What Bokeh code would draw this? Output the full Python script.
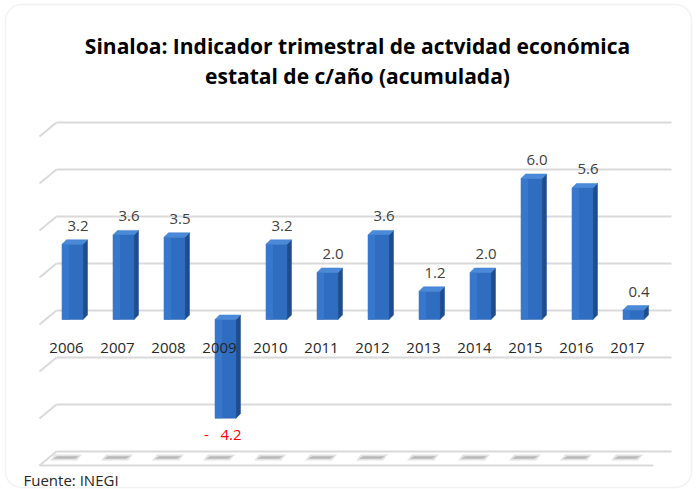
from bokeh.plotting import figure
from bokeh.models import Range1d, Label, BoxAnnotation
from bokeh.core.properties import value
from bokeh.embed import file_html
from bokeh.resources import INLINE

# ---- data ----
years = ["2006", "2007", "2008", "2009", "2010", "2011",
         "2012", "2013", "2014", "2015", "2016", "2017"]
values = [3.2, 3.6, 3.5, -4.2, 3.2, 2.0, 3.6, 1.2, 2.0, 6.0, 5.6, 0.4]
grid_ticks = [-6, -4, -2, 0, 2, 4, 6, 8]
title_lines = ["Sinaloa: Indicador trimestral de actvidad económica",
               "estatal de c/año (acumulada)"]
source_note = "Fuente: INEGI"

# ---- layout constants (pixels) ----
W, H = 696, 489
PX_X = 51.0      # px per category
PX_Y = 23.5      # px per value unit
X0 = 72.0        # px position of first category centre
Y0 = 170.0       # px (from bottom) of value 0 at bar front


def dx(px):
    return px / PX_X


def dy(px):
    return px / PX_Y


def sx(px):      # screen x (from left) -> data
    return (px - X0) / PX_X


def sy(px):      # screen y (from top) -> data
    return ((H - px) - Y0) / PX_Y


FONT = "Open Sans"

p = figure(width=W, height=H,
           x_range=Range1d(-X0 / PX_X, (W - X0) / PX_X),
           y_range=Range1d(-Y0 / PX_Y, (H - Y0) / PX_Y),
           x_axis_location=None, y_axis_location=None,
           output_backend="svg", toolbar_location=None,
           min_border=0, title=None)
p.grid.visible = False
p.outline_line_color = None
p.background_fill_color = "white"
p.border_fill_color = "white"

# rounded chart border
p.add_layout(BoxAnnotation(left=sx(5), right=sx(691), top=sy(4), bottom=sy(487),
                           fill_color=None, line_color="#d4d4d4", line_width=1.5,
                           border_radius=16))

# ---- 3D walls ----
back_off = dy(9)
diag_dx = dx(-17)
diag_dy = dy(-14)
back_left = dx(-16)
right_end = dx(599)
front_right = dx(581)

x0s, y0s, x1s, y1s = [], [], [], []
for g in grid_ticks:
    yb = g + back_off
    x0s += [back_left, back_left + diag_dx]
    y0s += [yb, yb + diag_dy]
    x1s += [right_end, back_left]
    y1s += [yb, yb]
# floor front edge
floor_y = grid_ticks[0] + back_off + diag_dy
x0s.append(back_left + diag_dx); y0s.append(floor_y)
x1s.append(front_right); y1s.append(floor_y)
p.segment(x0=x0s, y0=y0s, x1=x1s, y1=y1s, line_color="#d9d9d9", line_width=2)

# floor shadows
shadow_y = grid_ticks[0] + back_off + dy(-6)
shx, shy, shx2, shy2 = [], [], [], []
for i in range(len(years)):
    c = i + dx(-6.5)
    shx.append([c - dx(16), c + dx(11), c + dx(16), c - dx(11)])
    shy.append([shadow_y - dy(3), shadow_y - dy(3), shadow_y + dy(3), shadow_y + dy(3)])
    shx2.append([c - dx(13), c + dx(9), c + dx(13), c - dx(9)])
    shy2.append([shadow_y - dy(1.3), shadow_y - dy(1.3), shadow_y + dy(1.3), shadow_y + dy(1.3)])
p.patches(xs=shx, ys=shy, fill_color="#e3e3e3", line_color=None)
p.patches(xs=shx2, ys=shy2, fill_color="#b8b8b8", line_color=None)

# ---- 3D bars ----
half = dx(10.5)
ddx = dx(4.5)
ddy = dy(4.5)
xs_idx = list(range(len(years)))
lefts = [i - half for i in xs_idx]
rights = [i + half for i in xs_idx]
bottoms = [min(v, 0) for v in values]
tops = [max(v, 0) for v in values]

side_xs, side_ys, top_xs, top_ys = [], [], [], []
for i, b, t in zip(xs_idx, bottoms, tops):
    r = i + half
    l = i - half
    side_xs.append([r, r, r + ddx, r + ddx])
    side_ys.append([b, t, t + ddy, b + ddy])
    top_xs.append([l, r, r + ddx, l + ddx])
    top_ys.append([t, t, t + ddy, t + ddy])

p.patches(xs=side_xs, ys=side_ys, fill_color="#1f4c8c", line_color="#1f4c8c", line_width=0.5)
p.quad(left=lefts, right=rights, bottom=bottoms, top=tops,
       fill_color="#2f6dc0", line_color="#2a64b3", line_width=0.5)
p.quad(left=lefts, right=[l + dx(7) for l in lefts], bottom=bottoms, top=tops,
       fill_color="#3a7bd0", line_color=None, fill_alpha=0.8)
p.patches(xs=top_xs, ys=top_ys, fill_color="#4a8ad9", line_color="#3c7ccd", line_width=0.5)

# ---- data labels ----
lab_x, lab_y, lab_t, lab_c = [], [], [], []
for i, v in zip(xs_idx, values):
    lab_x.append(i + dx(16))
    if v >= 0:
        lab_y.append(v + dy(18.5))
        lab_t.append(f"{v:.1f}")
        lab_c.append("#404040")
    else:
        lab_y.append(v - dy(16))
        lab_t.append("-\u00a0\u00a0\u00a0" + f"{abs(v):.1f}")
        lab_c.append("#ff0000")
p.text(x=lab_x, y=lab_y, text=lab_t, text_color=lab_c,
       text_align="right", text_baseline="middle",
       text_font=value(FONT), text_font_size="15px")

# ---- category labels ----
p.text(x=[i + dx(-6) for i in xs_idx], y=[dy(-28)] * len(years), text=years,
       text_color="#262626", text_align="center", text_baseline="middle",
       text_font=value(FONT), text_font_size="15px")

# ---- title and footer ----
for k, line in enumerate(title_lines):
    p.add_layout(Label(x=357, y=H - 45 - 30 * k, x_units="screen", y_units="screen",
                       text=line, text_align="center", text_baseline="middle",
                       text_font=FONT, text_font_style="bold", text_font_size="21px",
                       text_color="#000000"))
p.add_layout(Label(x=23, y=H - 479, x_units="screen", y_units="screen",
                   text=source_note, text_align="left", text_baseline="middle",
                   text_font=FONT, text_font_size="15px", text_color="#262626"))

open("out.html", "w").write(file_html(p, INLINE))
